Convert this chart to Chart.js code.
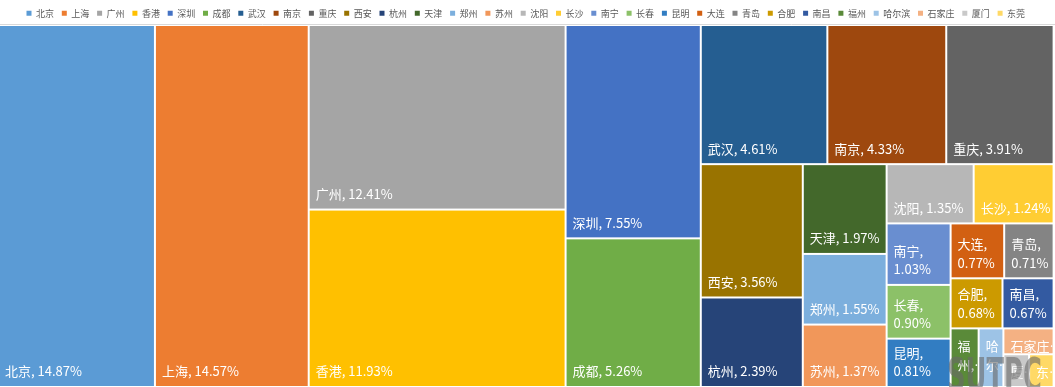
<!DOCTYPE html>
<html>
<head>
<meta charset="utf-8">
<script src="https://cdn.jsdelivr.net/npm/chart.js@4.4.0/dist/chart.umd.min.js"></script>
<style>
html, body { margin: 0; padding: 0; background: #fff; overflow: hidden; }
#wrap { position: absolute; left: -2px; top: 0; width: 1058px; height: 387px; }
</style>
</head>
<body>
<div id="wrap"><canvas id="chart"></canvas></div>
<script>
const cities = ['北京', '上海', '广州', '香港', '深圳', '成都', '武汉', '南京', '重庆', '西安',
    '杭州', '天津', '郑州', '苏州', '沈阳', '长沙', '南宁', '长春', '昆明', '大连',
    '青岛', '合肥', '南昌', '福州', '哈尔滨', '石家庄', '厦门', '东莞'];
const shares = [14.87, 14.57, 12.41, 11.93, 7.55, 5.26, 4.61, 4.33, 3.91, 3.56,
    2.39, 1.97, 1.55, 1.37, 1.35, 1.24, 1.03, 0.90, 0.81, 0.77,
    0.71, 0.68, 0.67, 0.43, 0.38, 0.34, 0.22, 0.21];
const colors = ['#5B9BD5', '#ED7D31', '#A5A5A5', '#FFC000', '#4472C4', '#70AD47', '#255E91', '#9E480E', '#636363', '#997300',
    '#264478', '#43682B', '#7CAFDD', '#F1975A', '#B7B7B7', '#FFCD33', '#698ED0', '#8CC168', '#327DC2', '#D26012',
    '#848484', '#CC9A00', '#335AA1', '#5A8A39', '#9DC3E6', '#F4B183', '#C9C9C9', '#FFD966'];

const LABEL_FONT = '13px "Noto Sans CJK SC", sans-serif';
const SQUARE_PREF = 0.84;   // preferred thickness/length of a cell inside its strip

// strip layout, always along the shorter side of what is left
function squarify(vals, w, h) {
    const total = vals.reduce((a, b) => a + b, 0);
    const areas = vals.map(v => v * w * h / total);
    const out = [];
    let x = 0, y = 0;
    const score = (row, len) => {
        const s = row.reduce((a, b) => a + b, 0);
        const t = s / len;
        let worst = 0;
        row.forEach(a => {
            const q = t * t / a;
            worst = Math.max(worst, q / SQUARE_PREF, SQUARE_PREF / q);
        });
        return worst;
    };
    let i = 0;
    while (i < areas.length) {
        const column = w >= h;
        const len = column ? h : w;
        const row = [areas[i]];
        let j = i + 1;
        while (j < areas.length && score(row.concat(areas[j]), len) <= score(row, len)) {
            row.push(areas[j]);
            j++;
        }
        const t = row.reduce((a, b) => a + b, 0) / len;
        let off = 0;
        row.forEach(a => {
            const l = a / t;
            if (column) out.push({ x: x, y: y + off, w: t, h: l });
            else out.push({ x: x + off, y: y, w: l, h: t });
            off += l;
        });
        if (column) { x += t; w -= t; } else { y += t; h -= t; }
        i = j;
    }
    return out;
}

function wrapLabel(ctx, name, pct, maxW) {
    const full = name + ', ' + pct;
    if (ctx.measureText(full).width <= maxW) return [full];
    const lines = [];
    [name + ',', pct].forEach(word => {
        if (ctx.measureText(word).width <= maxW) { lines.push(word); return; }
        let cur = '';
        for (const ch of word) {
            if (cur && ctx.measureText(cur + ch).width > maxW) { lines.push(cur); cur = ch; }
            else cur += ch;
        }
        if (cur) lines.push(cur);
    });
    return lines;
}

const treemapPlugin = {
    id: 'treemap',
    beforeDatasetsDraw(chart) {
        const ctx = chart.ctx;
        const xs = chart.scales.x, ys = chart.scales.y;
        const pw = xs.getPixelForValue(1) - xs.getPixelForValue(0);
        const ph = ys.getPixelForValue(1) - ys.getPixelForValue(0);
        const cells = squarify(shares, pw, ph);

        // thin grey rule above the plot
        ctx.save();
        ctx.strokeStyle = '#D9D9D9';
        ctx.lineWidth = 1;
        ctx.beginPath();
        ctx.moveTo(0, chart.chartArea.top - 0.5);
        ctx.lineTo(chart.width, chart.chartArea.top - 0.5);
        ctx.stroke();
        ctx.restore();

        cells.forEach((c, i) => {
            if (!chart.isDatasetVisible(i)) return;
            const left = xs.getPixelForValue(c.x / pw);
            const right = xs.getPixelForValue((c.x + c.w) / pw);
            const top = ys.getPixelForValue(c.y / ph);
            const bottom = ys.getPixelForValue((c.y + c.h) / ph);
            const w = right - left, h = bottom - top;

            ctx.save();
            ctx.fillStyle = colors[i];
            ctx.fillRect(left + 1, top + 1, w - 2, h - 2);
            ctx.beginPath();
            ctx.rect(left + 1, top + 1, w - 2, h - 2);
            ctx.clip();

            ctx.font = LABEL_FONT;
            ctx.fillStyle = '#FFFFFF';
            ctx.textBaseline = 'middle';
            const lineH = 18.5;
            let lines = wrapLabel(ctx, cities[i], shares[i].toFixed(2) + '%', w - 10);
            const maxLines = Math.max(1, Math.floor((h - 10) / lineH));
            if (lines.length > maxLines) {
                lines = lines.slice(0, maxLines);
                lines[maxLines - 1] += '…';
                lines.forEach((ln, n) => ctx.fillText(ln, left + 7, top + 18 + n * lineH));
            } else {
                lines.forEach((ln, n) => ctx.fillText(ln, left + 7, bottom - 15.5 - (lines.length - 1 - n) * lineH));
            }
            ctx.restore();
        });

        // watermark
        ctx.save();
        ctx.fillStyle = 'rgba(105,105,105,0.6)';
        ctx.font = 'bold 46px "DejaVu Sans", sans-serif';
        ctx.textBaseline = 'alphabetic';
        ctx.translate(949, 391);
        ctx.scale(0.56, 1);
        ctx.fillText('SUTPC', 0, 0);
        ctx.restore();
    }
};

new Chart(document.getElementById('chart'), {
    type: 'scatter',
    data: {
        datasets: cities.map((name, i) => ({
            label: name,
            data: [],
            backgroundColor: colors[i],
            borderColor: colors[i],
            borderWidth: 0
        }))
    },
    options: {
        responsive: true,
        maintainAspectRatio: false,
        animation: false,
        events: [],
        layout: { padding: { top: 1, right: 2.4, left: 0, bottom: 0 } },
        scales: {
            x: { type: 'linear', min: 0, max: 1, display: false },
            y: { type: 'linear', min: 0, max: 1, reverse: true, display: false }
        },
        plugins: {
            tooltip: { enabled: false },
            legend: {
                position: 'top',
                maxHeight: 24,
                labels: {
                    boxWidth: 5,
                    boxHeight: 5,
                    padding: 7.8,
                    color: '#595959',
                    font: { size: 9, family: '"Noto Sans CJK SC", sans-serif' }
                }
            }
        }
    },
    plugins: [treemapPlugin]
});
</script>
</body>
</html>
